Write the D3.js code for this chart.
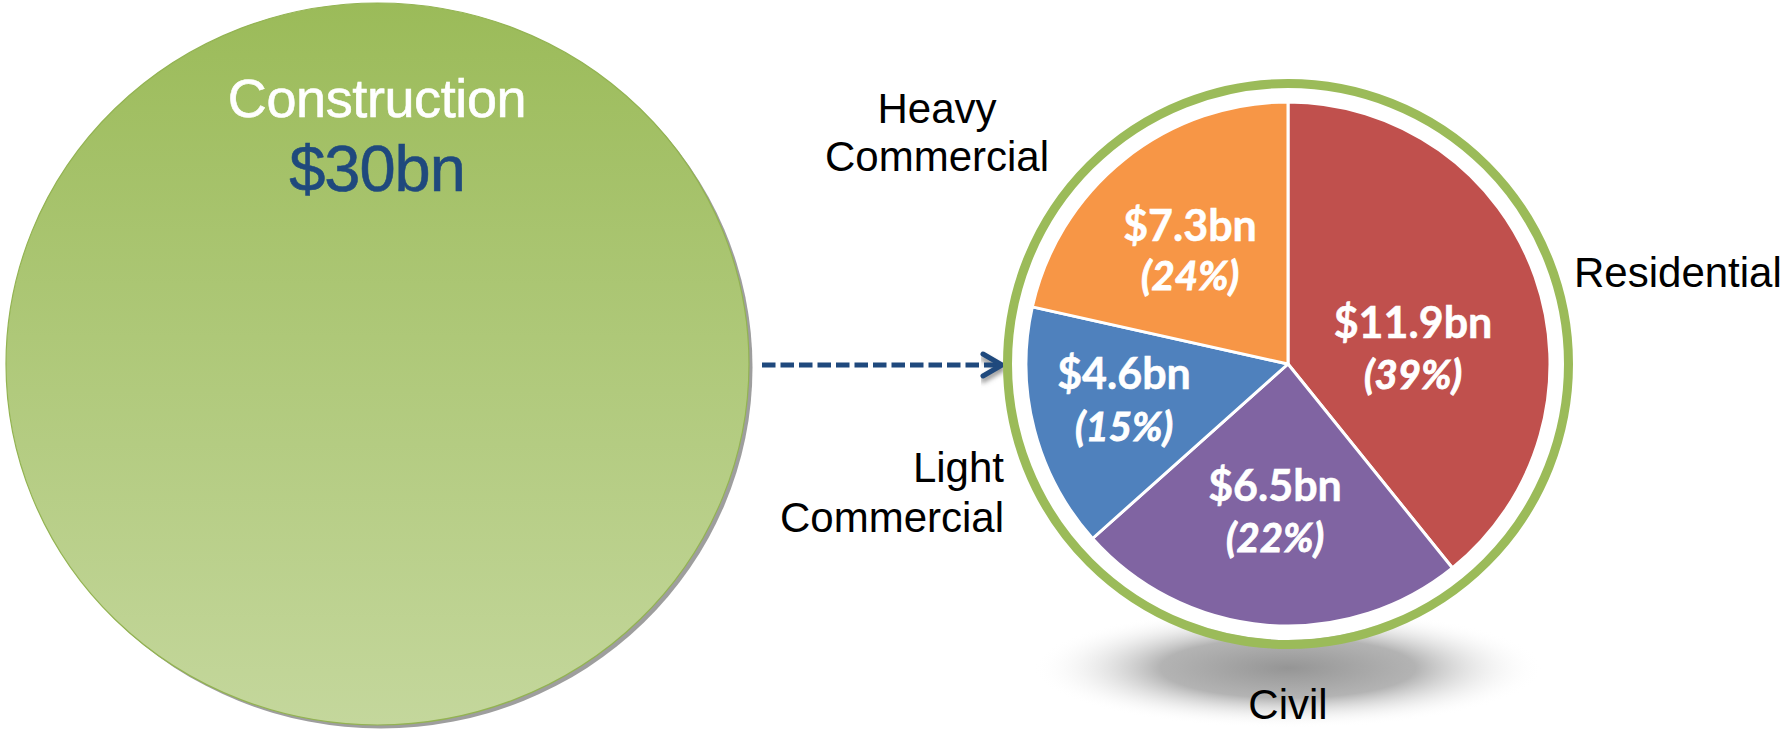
<!DOCTYPE html>
<html>
<head>
<meta charset="utf-8">
<script src="https://cdn.jsdelivr.net/npm/d3@7"></script>
<style>
  html, body { margin: 0; padding: 0; background: #ffffff; }
  svg { display: block; }
</style>
</head>
<body>
<svg id="chart" width="1787" height="730"></svg>
<script>
// ---- data ----
const totalLabel = "Construction";
const totalValue = "$30bn";
const categories = ["Residential", "Civil", "Light Commercial", "Heavy Commercial"];
const valuesBn = [11.9, 6.5, 4.6, 7.3];
const shareLabels = ["39%", "22%", "15%", "24%"];
// slice angles as drawn in the picture (percent of circle)
const sliceShares = [39.2, 24.2, 15.1, 21.5];
const colors = ["#C0504D", "#8064A2", "#4F81BD", "#F79646"];

// ---- layout ----
const svg = d3.select("#chart");
const defs = svg.append("defs");

const bigG = defs.append("linearGradient").attr("id", "bigGrad")
  .attr("x1", 0).attr("y1", 0).attr("x2", 0).attr("y2", 1);
bigG.append("stop").attr("offset", "0%").attr("stop-color", "#9BBB59");
bigG.append("stop").attr("offset", "100%").attr("stop-color", "#C4D79C");

const shG = defs.append("radialGradient").attr("id", "pieShadow");
shG.append("stop").attr("offset", "0%").attr("stop-color", "#959595").attr("stop-opacity", 1);
shG.append("stop").attr("offset", "50%").attr("stop-color", "#ababab").attr("stop-opacity", 0.9);
shG.append("stop").attr("offset", "100%").attr("stop-color", "#ffffff").attr("stop-opacity", 0);

const blur = defs.append("filter").attr("id", "arrowBlur")
  .attr("x", "-10%").attr("y", "-100%").attr("width", "120%").attr("height", "300%");
blur.append("feGaussianBlur").attr("stdDeviation", 2.5);

// big circle
const bc = { x: 377.5, y: 364, rx: 371.5, ry: 361 };
svg.append("ellipse").attr("cx", bc.x + 3.5).attr("cy", bc.y + 3.5)
  .attr("rx", bc.rx).attr("ry", bc.ry).attr("fill", "#9e9e9e");
svg.append("ellipse").attr("cx", bc.x).attr("cy", bc.y)
  .attr("rx", bc.rx).attr("ry", bc.ry)
  .attr("fill", "url(#bigGrad)").attr("stroke", "#93B352").attr("stroke-width", 1.2);

svg.append("text").attr("x", 377).attr("y", 117)
  .attr("text-anchor", "middle")
  .attr("font-family", "Liberation Sans, Arial, sans-serif")
  .attr("font-size", 54).attr("fill", "#ffffff")
  .attr("stroke", "#ffffff").attr("stroke-width", 0.6)
  .attr("letter-spacing", -0.4)
  .text(totalLabel);
svg.append("text").attr("x", 377).attr("y", 191)
  .attr("text-anchor", "middle")
  .attr("font-family", "Liberation Sans, Arial, sans-serif")
  .attr("font-size", 65).attr("fill", "#1F497D")
  .attr("stroke", "#1F497D").attr("stroke-width", 0.6)
  .attr("letter-spacing", -1)
  .text(totalValue);

// dashed arrow
const arrowY = 365;
const arrowG = svg.append("g");
const drawArrow = (g, dy, stroke, extra) => {
  g.append("line").attr("x1", 762).attr("x2", 1000).attr("y1", arrowY + dy).attr("y2", arrowY + dy)
    .attr("stroke", stroke).attr("stroke-width", 5).attr("stroke-dasharray", "13.5 5")
    .attr("filter", extra);
  g.append("path")
    .attr("d", d3.line()([[983, arrowY - 11 + dy], [1002, arrowY + dy], [983, arrowY + 11 + dy]]))
    .attr("fill", "none").attr("stroke", stroke).attr("stroke-width", 5)
    .attr("stroke-linecap", "round").attr("stroke-linejoin", "miter")
    .attr("filter", extra);
};
drawArrow(arrowG, 4, "#8a8a8a", "url(#arrowBlur)");
drawArrow(arrowG, 0, "#1F497D", null);

// pie
const pc = { x: 1288, y: 364 };
const pieR = 262;
svg.append("ellipse").attr("cx", pc.x).attr("cy", 668)
  .attr("rx", 255).attr("ry", 60).attr("fill", "url(#pieShadow)");

svg.append("circle").attr("cx", pc.x).attr("cy", pc.y).attr("r", 276).attr("fill", "#ffffff");
svg.append("circle").attr("cx", pc.x).attr("cy", pc.y).attr("r", 280.5)
  .attr("fill", "none").attr("stroke", "#9BBB59").attr("stroke-width", 9);

const data = categories.map((c, i) => ({ cat: c, v: valuesBn[i], share: sliceShares[i], pct: shareLabels[i], color: colors[i] }));
const pie = d3.pie().sort(null).value(d => d.share);
const arc = d3.arc().innerRadius(0).outerRadius(pieR);
const pieG = svg.append("g").attr("transform", `translate(${pc.x},${pc.y})`);
pieG.selectAll("path").data(pie(data)).join("path")
  .attr("d", arc).attr("fill", d => d.data.color)
  .attr("stroke", "#ffffff").attr("stroke-width", 3).attr("stroke-linejoin", "round");

// slice value labels (positions in page coordinates)
const valuePos = {
  "Residential":      { x: 1413, y1: 338, y2: 389 },
  "Civil":            { x: 1275, y1: 501, y2: 552 },
  "Light Commercial": { x: 1124, y1: 389, y2: 441 },
  "Heavy Commercial": { x: 1190, y1: 241, y2: 290 }
};
const lblG = svg.append("g")
  .attr("font-family", "Lato, 'Open Sans', sans-serif")
  .attr("fill", "#ffffff").attr("text-anchor", "middle").attr("font-weight", 700)
  .attr("stroke", "#ffffff");
data.forEach(d => {
  const p = valuePos[d.cat];
  lblG.append("text").attr("x", p.x).attr("y", p.y1).attr("font-size", 43)
    .attr("stroke-width", 0.5)
    .text("$" + d3.format(".1f")(d.v) + "bn");
  lblG.append("text").attr("x", p.x).attr("y", p.y2).attr("font-size", 40)
    .attr("font-style", "italic").attr("stroke-width", 0.9)
    .text("(" + d.pct + ")");
});

// category labels
const catPos = {
  "Residential":      { x: 1574, anchor: "start",  lines: ["Residential"], ys: [287] },
  "Civil":            { x: 1288, anchor: "middle", lines: ["Civil"], ys: [719] },
  "Light Commercial": { x: 1004, anchor: "end",    lines: ["Light", "Commercial"], ys: [482, 532] },
  "Heavy Commercial": { x: 937,  anchor: "middle", lines: ["Heavy", "Commercial"], ys: [123, 171] }
};
const catG = svg.append("g")
  .attr("font-family", "Liberation Sans, Arial, sans-serif")
  .attr("font-size", 42).attr("fill", "#000000");
categories.forEach(c => {
  const p = catPos[c];
  p.lines.forEach((ln, i) => {
    catG.append("text").attr("x", p.x).attr("y", p.ys[i])
      .attr("text-anchor", p.anchor).text(ln);
  });
});
</script>
</body>
</html>
